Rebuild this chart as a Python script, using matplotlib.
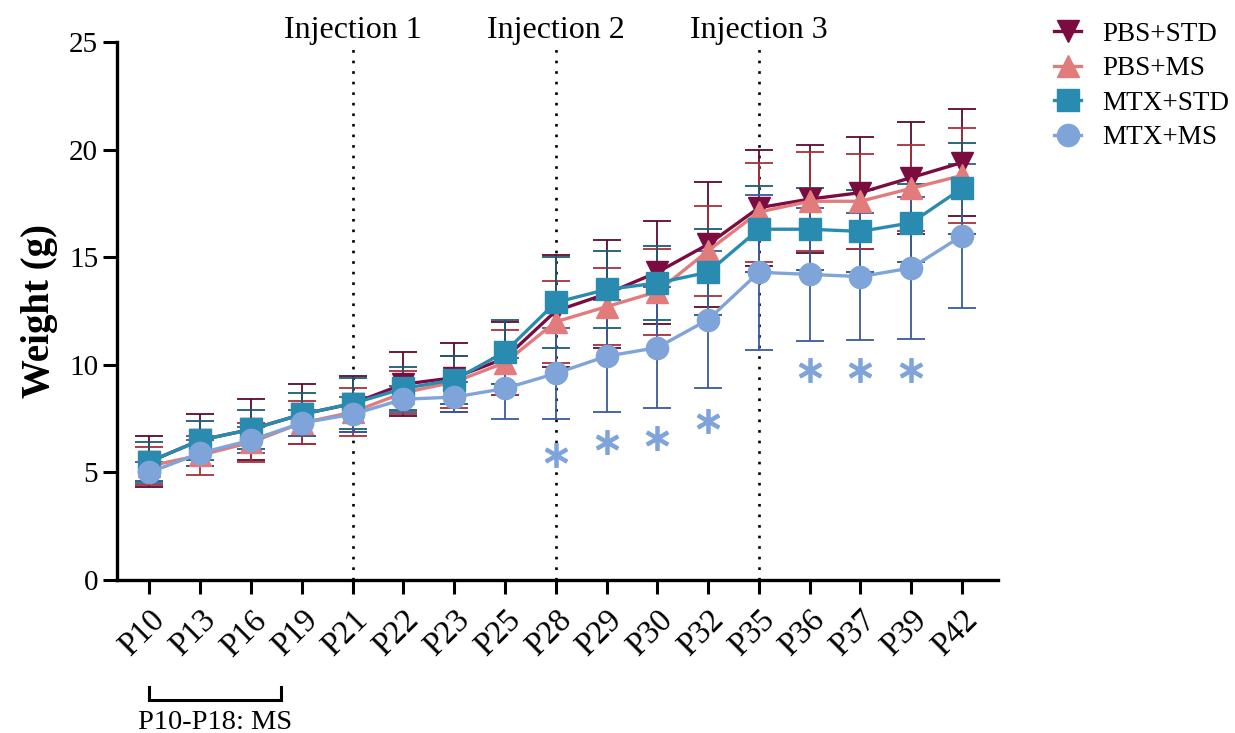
import numpy as np
import matplotlib.pyplot as plt
from matplotlib.lines import Line2D

plt.rcParams['font.family'] = ['Liberation Serif', 'DejaVu Serif']

# Días postnatales
days = ["P10", "P13", "P16", "P19", "P21", "P22", "P23", "P25", "P28",
        "P29", "P30", "P32", "P35", "P36", "P37", "P39", "P42"]

# Peso medio (g) por grupo
pbs_std = [5.5, 6.5, 7.0, 7.7, 8.2, 9.1, 9.4, 10.3, 12.5, 13.3, 14.3, 15.6, 17.3, 17.7, 18.0, 18.7, 19.4]
pbs_ms = [5.3, 5.8, 6.4, 7.3, 7.8, 8.7, 9.2, 10.1, 12.0, 12.7, 13.4, 15.3, 17.1, 17.6, 17.6, 18.2, 18.8]
mtx_std = [5.5, 6.5, 7.0, 7.7, 8.2, 8.9, 9.3, 10.6, 12.9, 13.5, 13.8, 14.3, 16.3, 16.3, 16.2, 16.6, 18.2]
mtx_ms = [5.0, 5.9, 6.5, 7.3, 7.7, 8.4, 8.5, 8.9, 9.6, 10.4, 10.8, 12.1, 14.3, 14.2, 14.1, 14.5, 16.0]

# Desviación estándar
pbs_std_sd = [1.2, 1.2, 1.4, 1.4, 1.3, 1.5, 1.6, 1.7, 2.6, 2.5, 2.4, 2.9, 2.7, 2.5, 2.6, 2.6, 2.5]
pbs_ms_sd = [0.9, 0.9, 0.9, 1.0, 1.1, 1.0, 1.2, 1.5, 1.9, 1.8, 2.0, 2.1, 2.3, 2.3, 2.2, 2.0, 2.2]
mtx_std_sd = [0.9, 0.9, 0.9, 1.0, 1.2, 1.0, 1.1, 1.5, 2.1, 1.8, 1.7, 2.0, 2.0, 1.9, 1.9, 1.8, 2.1]
mtx_ms_sd = [0.5, 0.6, 0.6, 0.6, 0.8, 0.6, 0.7, 1.4, 2.1, 2.6, 2.8, 3.2, 3.6, 3.1, 2.95, 3.3, 3.35]

# Días con diferencia significativa (*) y altura del símbolo
sig_idx = [8, 9, 10, 11, 13, 14, 15]
sig_y = [5.8, 6.4, 6.6, 7.4, 9.75, 9.75, 9.75]

injections = [4, 8, 12]
inj_labels = ["Injection 1", "Injection 2", "Injection 3"]

groups = [
    ("PBS+STD", pbs_std, pbs_std_sd, "#7a0c40", "#5c0a30", "v"),
    ("PBS+MS", pbs_ms, pbs_ms_sd, "#e27b7b", "#a8303c", "^"),
    ("MTX+STD", mtx_std, mtx_std_sd, "#2a8bb0", "#1d5a72", "s"),
    ("MTX+MS", mtx_ms, mtx_ms_sd, "#7fa4da", "#3c5a9a", "o"),
]

fig = plt.figure(figsize=(12.35, 7.33), dpi=100)
ax = fig.add_axes([0.0947, 0.2087, 0.7135, 0.734])
x = np.arange(len(days))

handles = []
for name, vals, sd, col, ecol, mk in groups:
    ax.errorbar(x, vals, yerr=sd, fmt="none", ecolor=ecol, elinewidth=1.3,
                capsize=10, capthick=1.3, zorder=2)
    ax.plot(x, vals, color=col, lw=2.4, marker=mk, ms=16, mec=col, zorder=3)
    handles.append(Line2D([], [], color=col, lw=2.4, marker=mk, ms=16, label=name))

# Líneas de inyección
for i, lab in zip(injections, inj_labels):
    ax.plot([i, i], [0, 25], color="black", lw=1.9, ls=(0, (1, 3)), zorder=1)
    ax.text(i, 25.2, lab, ha="center", va="baseline", fontsize=23, clip_on=False)

# Asteriscos de significancia
ax.plot(x[sig_idx], sig_y, ls="none", marker="$\\ast$", ms=17, color="#7fa4da", zorder=4)

ax.set_xlim(-0.64, 16.71)
ax.set_ylim(0, 25)
ax.set_yticks([0, 5, 10, 15, 20, 25])
ax.set_xticks(x)
ax.set_xticklabels(days, rotation=45, ha="right", rotation_mode="anchor")
ax.tick_params(axis="both", width=2.2, length=10)
ax.tick_params(axis="y", labelsize=21)
ax.tick_params(axis="x", labelsize=23.5, pad=8)
for s in ["top", "right"]:
    ax.spines[s].set_visible(False)
for s in ["left", "bottom"]:
    ax.spines[s].set_linewidth(2.4)
ax.set_ylabel("Weight (g)", fontsize=28, fontweight="bold", labelpad=8)

# Periodo de dieta MS
ax.plot([0, 0, 2.59, 2.59], [-4.97, -5.58, -5.58, -4.97], color="black", lw=2.2,
        clip_on=False, solid_joinstyle="miter")
ax.text(1.3, -6.6, "P10-P18: MS", ha="center", va="center", fontsize=20.5, clip_on=False)

fig.legend(handles=handles, loc="upper left", bbox_to_anchor=(0.845, 0.985),
           frameon=False, fontsize=19.5, handlelength=1.0, handletextpad=0.75,
           labelspacing=0.35, borderaxespad=0)

fig.savefig("out.png", dpi=100)
